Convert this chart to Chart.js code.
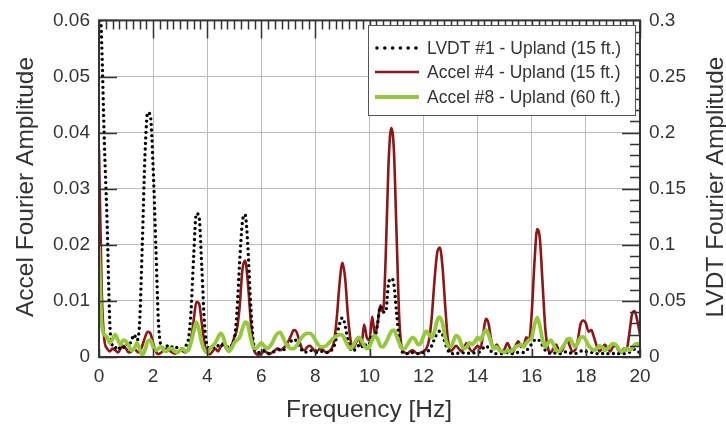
<!DOCTYPE html>
<html>
<head>
<meta charset="utf-8">
<script src="https://cdn.jsdelivr.net/npm/chart.js@4.4.1/dist/chart.umd.min.js"></script>
<style>
  html, body { margin: 0; padding: 0; background: #ffffff; }
  canvas { display: block; }
</style>
</head>
<body>
<canvas id="spectra" width="726" height="428"></canvas>
<script>
// Frequency grid (Hz)
const freqHz = [
  0.0, 0.1, 0.2, 0.3, 0.4, 0.5, 0.6, 0.7, 0.8, 0.9,
  1.0, 1.1, 1.2, 1.3, 1.4, 1.5, 1.6, 1.7, 1.8, 1.9,
  2.0, 2.1, 2.2, 2.3, 2.4, 2.5, 2.6, 2.7, 2.8, 2.9,
  3.0, 3.1, 3.2, 3.3, 3.4, 3.5, 3.6, 3.7, 3.8, 3.9,
  4.0, 4.1, 4.2, 4.3, 4.4, 4.5, 4.6, 4.7, 4.8, 4.9,
  5.0, 5.1, 5.2, 5.3, 5.4, 5.5, 5.6, 5.7, 5.8, 5.9,
  6.0, 6.1, 6.2, 6.3, 6.4, 6.5, 6.6, 6.7, 6.8, 6.9,
  7.0, 7.1, 7.2, 7.3, 7.4, 7.5, 7.6, 7.7, 7.8, 7.9,
  8.0, 8.1, 8.2, 8.3, 8.4, 8.5, 8.6, 8.7, 8.8, 8.9,
  9.0, 9.1, 9.2, 9.3, 9.4, 9.5, 9.6, 9.7, 9.8, 9.9,
  10.0, 10.1, 10.2, 10.3, 10.4, 10.5, 10.6, 10.7, 10.8, 10.9,
  11.0, 11.1, 11.2, 11.3, 11.4, 11.5, 11.6, 11.7, 11.8, 11.9,
  12.0, 12.1, 12.2, 12.3, 12.4, 12.5, 12.6, 12.7, 12.8, 12.9,
  13.0, 13.1, 13.2, 13.3, 13.4, 13.5, 13.6, 13.7, 13.8, 13.9,
  14.0, 14.1, 14.2, 14.3, 14.4, 14.5, 14.6, 14.7, 14.8, 14.9,
  15.0, 15.1, 15.2, 15.3, 15.4, 15.5, 15.6, 15.7, 15.8, 15.9,
  16.0, 16.1, 16.2, 16.3, 16.4, 16.5, 16.6, 16.7, 16.8, 16.9,
  17.0, 17.1, 17.2, 17.3, 17.4, 17.5, 17.6, 17.7, 17.8, 17.9,
  18.0, 18.1, 18.2, 18.3, 18.4, 18.5, 18.6, 18.7, 18.8, 18.9,
  19.0, 19.1, 19.2, 19.3, 19.4, 19.5, 19.6, 19.7, 19.8, 19.9,
  20.0
];

// LVDT #1 - Upland (15 ft.), right axis
const lvdtAmp = [
  0.34, 0.28, 0.19, 0.12, 0.03, 0.01, 0.008, 0.01, 0.007, 0.008,
  0.012, 0.01, 0.015, 0.02, 0.015, 0.03, 0.1, 0.18, 0.218, 0.215,
  0.17, 0.1, 0.03, 0.01, 0.008, 0.01, 0.008, 0.009, 0.01, 0.008,
  0.007, 0.008, 0.01, 0.015, 0.04, 0.09, 0.128, 0.125, 0.08, 0.03,
  0.01, 0.008, 0.009, 0.008, 0.01, 0.012, 0.01, 0.01, 0.008, 0.01,
  0.015, 0.04, 0.085, 0.12, 0.127, 0.1, 0.05, 0.015, 0.005, 0.004,
  0.005, 0.006, 0.004, 0.003, 0.004, 0.005, 0.006, 0.007, 0.006, 0.008,
  0.01, 0.014, 0.016, 0.014, 0.01, 0.006, 0.004, 0.005, 0.006, 0.005,
  0.004, 0.004, 0.005, 0.005, 0.004, 0.004, 0.006, 0.01, 0.02, 0.03,
  0.035, 0.028, 0.015, 0.007, 0.005, 0.008, 0.01, 0.008, 0.012, 0.01,
  0.012, 0.02, 0.018, 0.03, 0.045, 0.04, 0.04, 0.065, 0.07, 0.065,
  0.04, 0.015, 0.005, 0.003, 0.003, 0.004, 0.004, 0.003, 0.003, 0.004,
  0.004, 0.005, 0.006, 0.01, 0.016, 0.021, 0.023, 0.02, 0.012, 0.006,
  0.003, 0.003, 0.004, 0.003, 0.003, 0.004, 0.004, 0.003, 0.003, 0.004,
  0.004, 0.005, 0.008, 0.01, 0.008, 0.005, 0.003, 0.003, 0.003, 0.003,
  0.003, 0.004, 0.003, 0.003, 0.004, 0.004, 0.004, 0.004, 0.006, 0.008,
  0.012, 0.015, 0.016, 0.014, 0.01, 0.006, 0.004, 0.003, 0.003, 0.004,
  0.003, 0.003, 0.004, 0.005, 0.004, 0.003, 0.003, 0.004, 0.005, 0.006,
  0.005, 0.004, 0.004, 0.003, 0.003, 0.003, 0.003, 0.004, 0.003, 0.003,
  0.003, 0.004, 0.003, 0.003, 0.003, 0.003, 0.004, 0.006, 0.007, 0.005,
  0.004
];

// Accel #4 - Upland (15 ft.), left axis
const accel4Amp = [
  0.037, 0.012, 0.003, 0.0015, 0.001, 0.0015, 0.0012, 0.0008, 0.0015, 0.002,
  0.0015, 0.0008, 0.001, 0.0015, 0.001, 0.0008, 0.002, 0.0035, 0.0045, 0.0042,
  0.0025, 0.001, 0.0005, 0.0008, 0.0012, 0.0015, 0.0012, 0.0008, 0.0006, 0.0008,
  0.0012, 0.001, 0.0008, 0.0015, 0.003, 0.0065, 0.0098, 0.0095, 0.006, 0.0025,
  0.0008, 0.0005, 0.001, 0.0015, 0.001, 0.0018, 0.0025, 0.0015, 0.001, 0.002,
  0.0035, 0.005, 0.009, 0.0155, 0.0172, 0.0135, 0.007, 0.002, 0.0006, 0.0004,
  0.0006, 0.001, 0.0008, 0.0005, 0.0008, 0.0012, 0.0015, 0.0012, 0.0015, 0.002,
  0.0028, 0.0038, 0.0048, 0.0045, 0.003, 0.0015, 0.0012, 0.0018, 0.002, 0.0015,
  0.001, 0.0012, 0.0015, 0.0012, 0.0008, 0.001, 0.0015, 0.003, 0.0075, 0.0135,
  0.0168, 0.014, 0.0075, 0.003, 0.0015, 0.0025, 0.0035, 0.002, 0.0058, 0.0035,
  0.003, 0.0072, 0.004, 0.006, 0.0092, 0.008, 0.018, 0.034, 0.0408, 0.037,
  0.022, 0.007, 0.0015, 0.0008, 0.0006, 0.001, 0.0012, 0.0008, 0.0006, 0.0008,
  0.001, 0.0015, 0.003, 0.007, 0.0135, 0.0185, 0.0195, 0.016, 0.009, 0.003,
  0.001, 0.0015, 0.002, 0.0015, 0.001, 0.0018, 0.0025, 0.0015, 0.001, 0.0015,
  0.002, 0.0015, 0.004, 0.0068, 0.006, 0.003, 0.0015, 0.0022, 0.0015, 0.0008,
  0.0015, 0.0025, 0.0015, 0.0008, 0.002, 0.0028, 0.0018, 0.002, 0.0035, 0.003,
  0.008, 0.017, 0.0228, 0.021, 0.013, 0.005, 0.0015, 0.0008, 0.0015, 0.0022,
  0.0012, 0.001, 0.002, 0.0032, 0.002, 0.001, 0.0012, 0.003, 0.0058, 0.0065,
  0.006, 0.0045, 0.0048, 0.0035, 0.002, 0.001, 0.0015, 0.0022, 0.0015, 0.001,
  0.0018, 0.002, 0.0012, 0.0008, 0.0015, 0.0012, 0.004, 0.0075, 0.0082, 0.0065,
  0.004
];

// Accel #8 - Upland (60 ft.), left axis
const accel8Amp = [
  0.020, 0.006, 0.004, 0.0035, 0.0025, 0.0032, 0.004, 0.003, 0.0022, 0.003,
  0.0028, 0.002, 0.0012, 0.0015, 0.0025, 0.0015, 0.0003, 0.0012, 0.0028, 0.003,
  0.0018, 0.0012, 0.0015, 0.0018, 0.0012, 0.001, 0.0015, 0.0015, 0.001, 0.0008,
  0.0012, 0.0015, 0.001, 0.0012, 0.0025, 0.0045, 0.0062, 0.0048, 0.0025, 0.0012,
  0.0008, 0.0015, 0.002, 0.0025, 0.0035, 0.0042, 0.0035, 0.0018, 0.001, 0.0015,
  0.0025, 0.003, 0.0035, 0.005, 0.0062, 0.0058, 0.0035, 0.0018, 0.0015, 0.002,
  0.0025, 0.002, 0.0015, 0.0018, 0.0025, 0.0035, 0.0042, 0.0044, 0.0035, 0.0025,
  0.0018, 0.0015, 0.0015, 0.002, 0.0028, 0.0035, 0.004, 0.0042, 0.0042, 0.0038,
  0.003, 0.0022, 0.0018, 0.0018, 0.002, 0.0025, 0.003, 0.0035, 0.0038, 0.004,
  0.0039, 0.003, 0.002, 0.0015, 0.002, 0.003, 0.0035, 0.003, 0.002, 0.0015,
  0.0018, 0.003, 0.0038, 0.0032, 0.002, 0.0018, 0.0025, 0.0035, 0.0045, 0.0048,
  0.0038, 0.0025, 0.0015, 0.0015, 0.0022, 0.003, 0.0035, 0.003, 0.0022, 0.0025,
  0.0038, 0.0046, 0.004, 0.0035, 0.0045, 0.0065, 0.0071, 0.006, 0.0035, 0.002,
  0.0018, 0.0028, 0.0038, 0.0035, 0.0022, 0.0015, 0.0018, 0.0025, 0.0022, 0.0028,
  0.0035, 0.003, 0.004, 0.0048, 0.004, 0.0025, 0.0015, 0.0018, 0.0012, 0.001,
  0.0008, 0.0012, 0.001, 0.0012, 0.0018, 0.002, 0.0022, 0.0018, 0.0025, 0.003,
  0.0035, 0.0058, 0.007, 0.0055, 0.003, 0.0018, 0.0025, 0.003, 0.0022, 0.0012,
  0.001, 0.0015, 0.0022, 0.003, 0.0033, 0.0025, 0.0018, 0.0025, 0.0035, 0.0036,
  0.003, 0.002, 0.0015, 0.0012, 0.0015, 0.002, 0.0018, 0.0012, 0.0015, 0.002,
  0.0024, 0.0022, 0.0015, 0.001, 0.0012, 0.0015, 0.0012, 0.0015, 0.0022, 0.0024,
  0.002
];

const seriesNames = [
  'LVDT #1 - Upland (15 ft.)',
  'Accel #4 - Upland (15 ft.)',
  'Accel #8 - Upland (60 ft.)'
];

const axisTitles = {
  x: 'Frequency [Hz]',
  left: 'Accel Fourier Amplitude',
  right: 'LVDT Fourier Amplitude'
};

const FONT = '"Liberation Sans", Arial, Helvetica, sans-serif';
const INK = '#333333';
const RED = '#8e1616';
const GREEN = '#95c93c';

function pairs(xs, ys) {
  return xs.map((x, i) => ({ x: x, y: ys[i] }));
}

function fmtTick(v) {
  return String(parseFloat(Number(v).toFixed(3)));
}

// Frame, inward tick marks, rotated axis titles and the boxed legend
const decorations = {
  id: 'decorations',
  afterDraw(chart) {
    const ctx = chart.ctx;
    const a = chart.chartArea;
    const sx = chart.scales.x, sy = chart.scales.y, sr = chart.scales.yR;
    ctx.save();

    // ticks
    ctx.strokeStyle = INK;
    ctx.lineWidth = 1.5;
    ctx.beginPath();
    // top axis: major every 2 Hz, minor every 0.25 Hz
    for (let k = 0; k <= 80; k++) {
      const f = k * 0.25;
      const px = Math.round(sx.getPixelForValue(f)) + 0.5;
      const len = (k % 8 === 0) ? 18 : 9;
      ctx.moveTo(px, a.top);
      ctx.lineTo(px, a.top + len);
    }
    // bottom axis: major every 2 Hz
    for (let k = 0; k <= 10; k++) {
      const px = Math.round(sx.getPixelForValue(k * 2)) + 0.5;
      ctx.moveTo(px, a.bottom);
      ctx.lineTo(px, a.bottom - 8);
    }
    // left axis: every 0.01
    for (let k = 0; k <= 6; k++) {
      const py = Math.round(sy.getPixelForValue(k * 0.01)) + 0.5;
      ctx.moveTo(a.left, py);
      ctx.lineTo(a.left + 18, py);
    }
    // right axis: major 0.05, minor 0.01
    for (let k = 0; k <= 30; k++) {
      const py = Math.round(sr.getPixelForValue(k * 0.01)) + 0.5;
      const len = (k % 5 === 0) ? 18 : 10;
      ctx.moveTo(a.right, py);
      ctx.lineTo(a.right - len, py);
    }
    ctx.stroke();

    // frame
    ctx.lineWidth = 2;
    ctx.strokeStyle = INK;
    ctx.strokeRect(a.left, a.top, a.right - a.left, a.bottom - a.top);

    // legend box
    const lx = 368, ly = 25, lw = 267, lh = 90;
    ctx.fillStyle = '#ffffff';
    ctx.fillRect(lx, ly, lw, lh);
    ctx.lineWidth = 1;
    ctx.strokeStyle = '#555555';
    ctx.strokeRect(lx + 0.5, ly + 0.5, lw, lh);

    const rows = [48, 72, 97];
    // dotted sample
    ctx.fillStyle = '#000000';
    for (let i = 0; i < 6; i++) {
      ctx.beginPath();
      ctx.arc(377 + i * 7.8, rows[0], 1.8, 0, Math.PI * 2);
      ctx.fill();
    }
    ctx.lineCap = 'butt';
    ctx.strokeStyle = RED;
    ctx.lineWidth = 2.4;
    ctx.beginPath();
    ctx.moveTo(375, rows[1]);
    ctx.lineTo(419, rows[1]);
    ctx.stroke();
    ctx.strokeStyle = GREEN;
    ctx.lineWidth = 4;
    ctx.beginPath();
    ctx.moveTo(375, rows[2]);
    ctx.lineTo(419, rows[2]);
    ctx.stroke();

    ctx.fillStyle = INK;
    ctx.font = '17.5px ' + FONT;
    ctx.textAlign = 'left';
    ctx.textBaseline = 'middle';
    seriesNames.forEach((name, i) => ctx.fillText(name, 427, rows[i] + 1));

    // axis titles
    ctx.font = '24.5px ' + FONT;
    ctx.fillStyle = INK;
    ctx.textAlign = 'center';
    ctx.textBaseline = 'middle';
    ctx.fillText(axisTitles.x, 369, 410);

    ctx.save();
    ctx.translate(26, 187);
    ctx.rotate(-Math.PI / 2);
    ctx.fillText(axisTitles.left, 0, 0);
    ctx.restore();

    ctx.save();
    ctx.translate(716, 187);
    ctx.rotate(-Math.PI / 2);
    ctx.fillText(axisTitles.right, 0, 0);
    ctx.restore();

    ctx.restore();
  }
};

new Chart(document.getElementById('spectra'), {
  type: 'line',
  data: {
    datasets: [
      {
        label: seriesNames[0],
        data: pairs(freqHz, lvdtAmp),
        yAxisID: 'yR',
        borderColor: '#000000',
        borderWidth: 3.4,
        borderDash: [0, 5.6],
        borderCapStyle: 'round',
        pointRadius: 0,
        cubicInterpolationMode: 'monotone',
        order: 1
      },
      {
        label: seriesNames[1],
        data: pairs(freqHz, accel4Amp),
        yAxisID: 'y',
        borderColor: RED,
        borderWidth: 2.6,
        pointRadius: 0,
        cubicInterpolationMode: 'monotone',
        order: 2
      },
      {
        label: seriesNames[2],
        data: pairs(freqHz, accel8Amp),
        yAxisID: 'y',
        borderColor: GREEN,
        borderWidth: 3.8,
        pointRadius: 0,
        cubicInterpolationMode: 'monotone',
        order: 0
      }
    ]
  },
  options: {
    responsive: false,
    animation: false,
    devicePixelRatio: 1,
    layout: { padding: { top: 18, left: 0, right: 0, bottom: 0 } },
    plugins: {
      legend: { display: false },
      tooltip: { enabled: false }
    },
    scales: {
      x: {
        type: 'linear',
        min: 0,
        max: 20,
        ticks: {
          stepSize: 2,
          color: INK,
          padding: 8,
          font: { family: FONT, size: 19 },
          callback: fmtTick
        },
        grid: { color: '#bcbcbc', lineWidth: 1, drawTicks: false },
        border: { display: false },
        afterFit(scale) { scale.height = 71; }
      },
      y: {
        position: 'left',
        min: 0,
        max: 0.06,
        ticks: {
          stepSize: 0.01,
          color: INK,
          padding: 9,
          font: { family: FONT, size: 19 },
          callback: fmtTick
        },
        grid: { color: '#bcbcbc', lineWidth: 1, drawTicks: false },
        border: { display: false },
        afterFit(scale) { scale.width = 99; }
      },
      yR: {
        position: 'right',
        min: 0,
        max: 0.3,
        ticks: {
          stepSize: 0.05,
          color: INK,
          padding: 9,
          font: { family: FONT, size: 19 },
          callback: fmtTick
        },
        grid: { display: false, drawTicks: false },
        border: { display: false },
        afterFit(scale) { scale.width = 86; }
      }
    }
  },
  plugins: [decorations]
});
</script>
</body>
</html>
